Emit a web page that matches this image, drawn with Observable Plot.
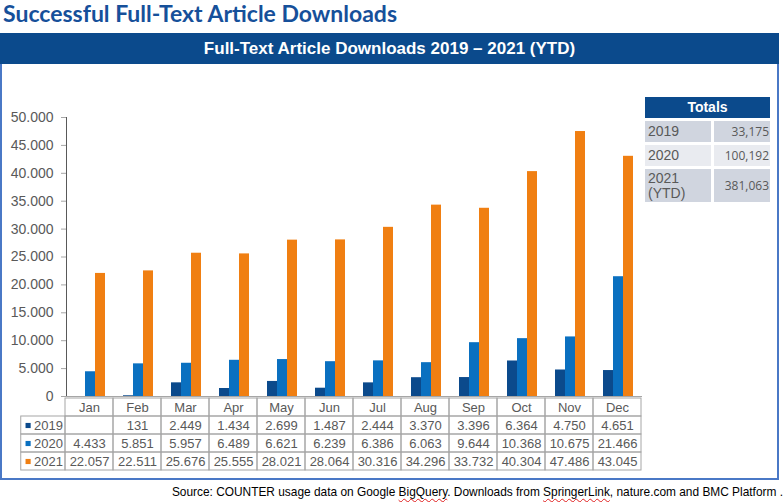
<!DOCTYPE html>
<html>
<head>
<meta charset="utf-8">
<script src="https://cdn.jsdelivr.net/npm/d3@7"></script>
<script src="https://cdn.jsdelivr.net/npm/@observablehq/plot@0.6"></script>
<style>
  html, body { margin: 0; padding: 0; background: #fff; }
  body { width: 784px; height: 502px; position: relative; overflow: hidden; font-family: "Liberation Sans", Arial, sans-serif; }
  #title { position: absolute; left: 3px; top: 0px; font-family: Lato, "Open Sans", sans-serif; font-weight: 700; font-size: 23px; color: #16509A; line-height: 27px; white-space: nowrap; }
  #frame { position: absolute; left: 0; top: 33px; width: 779px; height: 447px; box-sizing: border-box; border: 2px solid #4A78C6; }
  #header { position: absolute; left: 0; top: 33px; width: 779px; height: 31px; background: #0B4A8C; color: #fff; text-align: center; line-height: 31px; font-family: "Liberation Sans Narrow", "Arial Narrow", "Liberation Sans", sans-serif; font-weight: 700; font-size: 17px; }
  #chart { position: absolute; left: 0; top: 65px; }
  #table { position: absolute; left: 0; top: 396px; }
  #totals { position: absolute; left: 645px; top: 97px; width: 125px; }
  #totals .th { height: 21px; line-height: 21px; background: #0B4A8C; color: #fff; font-weight: 700; font-size: 14px; text-align: center; }
  #totals .row { display: flex; margin-top: 3px; }
  #totals .lab { width: 66px; padding-left: 3px; box-sizing: border-box; color: #595959; font-size: 14px; line-height: 15px; display: flex; align-items: center; }
  #totals .val { flex: 1; margin-left: 3px; text-align: right; padding-right: 1px; color: #595959; font-family: "Open Sans", sans-serif; font-size: 12px; display: flex; align-items: center; justify-content: flex-end; }
  #caption { position: absolute; right: 1px; top: 485px; font-size: 11.9px; color: #000; white-space: nowrap; }
  .sq { text-decoration: underline wavy #E02020; text-decoration-thickness: 1px; text-underline-offset: 2px; }
  svg [aria-label^="y-axis"] line, svg [aria-label^="y-axis"] path { stroke: #A6A6A6; }
  svg [aria-label^="y-axis"] text { fill: #595959; }
</style>
</head>
<body>
<div id="title">Successful Full-Text Article Downloads</div>
<div id="frame"></div>
<div id="header">Full-Text Article Downloads 2019 – 2021 (YTD)</div>
<div id="chart"></div>
<div id="table"></div>
<div id="totals"></div>
<div id="caption">Source: COUNTER usage data on Google <span class="sq">BigQuery</span>. Downloads from <span class="sq">SpringerLink</span>, nature.com and BMC Platform .</div>
<script>
// ---- data ----
const months = ["Jan","Feb","Mar","Apr","May","Jun","Jul","Aug","Sep","Oct","Nov","Dec"];
const years = ["2019","2020","2021"];
const v2019 = [null, 131, 2449, 1434, 2699, 1487, 2444, 3370, 3396, 6364, 4750, 4651];
const v2020 = [4433, 5851, 5957, 6489, 6621, 6239, 6386, 6063, 9644, 10368, 10675, 21466];
const v2021 = [22057, 22511, 25676, 25555, 28021, 28064, 30316, 34296, 33732, 40304, 47486, 43045];
const yTicks = [0, 5000, 10000, 15000, 20000, 25000, 30000, 35000, 40000, 45000, 50000];
const totalsLabels = ["2019", "2020", "2021<br>(YTD)"];
const totalsValues = [33175, 100192, 381063];

const seriesColors = ["#0B4A8C", "#0A70C0", "#F07F12"];
const gridColor = "#A6A6A6";
const textColor = "#595959";

const fmt = d3.formatLocale({decimal: ",", thousands: ".", grouping: [3], currency: ["", ""]}).format(",");
const series = [v2019, v2020, v2021];

const rows = [];
months.forEach((m, i) => series.forEach((arr, j) => rows.push({month: m, year: years[j], value: arr[i]})));

// ---- bar chart ----
const chart = Plot.plot({
  width: 778, height: 332,
  marginTop: 52, marginBottom: 1, marginLeft: 61, marginRight: 132,
  facet: {data: rows, x: "month"},
  fx: {domain: months, padding: 0, axis: null, label: null},
  x: {domain: years, paddingInner: 0, paddingOuter: 0.9, axis: null},
  y: {domain: [0, 50000], ticks: yTicks, tickFormat: fmt, tickSize: 5, tickPadding: 8, line: true, label: null},
  color: {domain: years, range: seriesColors},
  style: {fontFamily: "'Liberation Sans', Arial, sans-serif", fontSize: "14px", color: textColor, background: "none", overflow: "visible"},
  marks: [
    Plot.barY(rows, {x: "year", y: "value", fill: "year"}),
    Plot.ruleY([0], {stroke: gridColor})
  ]
});
document.getElementById("chart").append(chart);

// ---- data table ----
const tableRows = ["month", ...years];
const cells = [];
months.forEach(m => cells.push({row: "month", col: m, text: m}));
years.forEach((y, j) => months.forEach((m, i) => {
  const v = series[j][i];
  cells.push({row: y, col: m, text: v == null ? "" : fmt(v)});
}));
const keyCells = years.map(y => ({row: y, col: "key", text: y}));

const table = Plot.plot({
  width: 778, height: 76,
  marginTop: 0, marginBottom: 1, marginLeft: 12.25, marginRight: 132,
  x: {domain: ["key", ...months], padding: 0, axis: null},
  y: {domain: tableRows, padding: 0, axis: null},
  color: {domain: years, range: seriesColors},
  style: {fontFamily: "'Liberation Sans', Arial, sans-serif", fontSize: "13px", color: textColor, background: "none", overflow: "visible"},
  marks: [
    Plot.cell(cells, {x: "col", y: "row", fill: "none", stroke: gridColor, inset: 0}),
    Plot.cell(keyCells, {x: "col", y: "row", fill: "none", stroke: gridColor, insetLeft: 3.75, insetRight: 0, insetTop: 0, insetBottom: 0}),
    Plot.text(cells, {x: "col", y: "row", text: "text", fill: textColor, fontSize: 13}),
    Plot.text(keyCells, {x: "col", y: "row", text: "text", fill: textColor, fontSize: 13, textAnchor: "end", dx: 21.5}),
    Plot.dot(keyCells, {x: "col", y: "row", fill: "row", symbol: "square", r: 2.9, dx: -13.4})
  ]
});
document.getElementById("table").append(table);

// ---- totals box ----
const totalsFmt = d3.format(",");
const heights = [21, 21, 33];
const bgs = ["#D0D5DF", "#E9EBF0", "#D0D5DF"];
let html = '<div class="th">Totals</div>';
totalsLabels.forEach((l, i) => {
  html += `<div class="row" style="height:${heights[i]}px"><div class="lab" style="background:${bgs[i]}">${l}</div><div class="val" style="background:${bgs[i]}">${totalsFmt(totalsValues[i])}</div></div>`;
});
document.getElementById("totals").innerHTML = html;
</script>
</body>
</html>
